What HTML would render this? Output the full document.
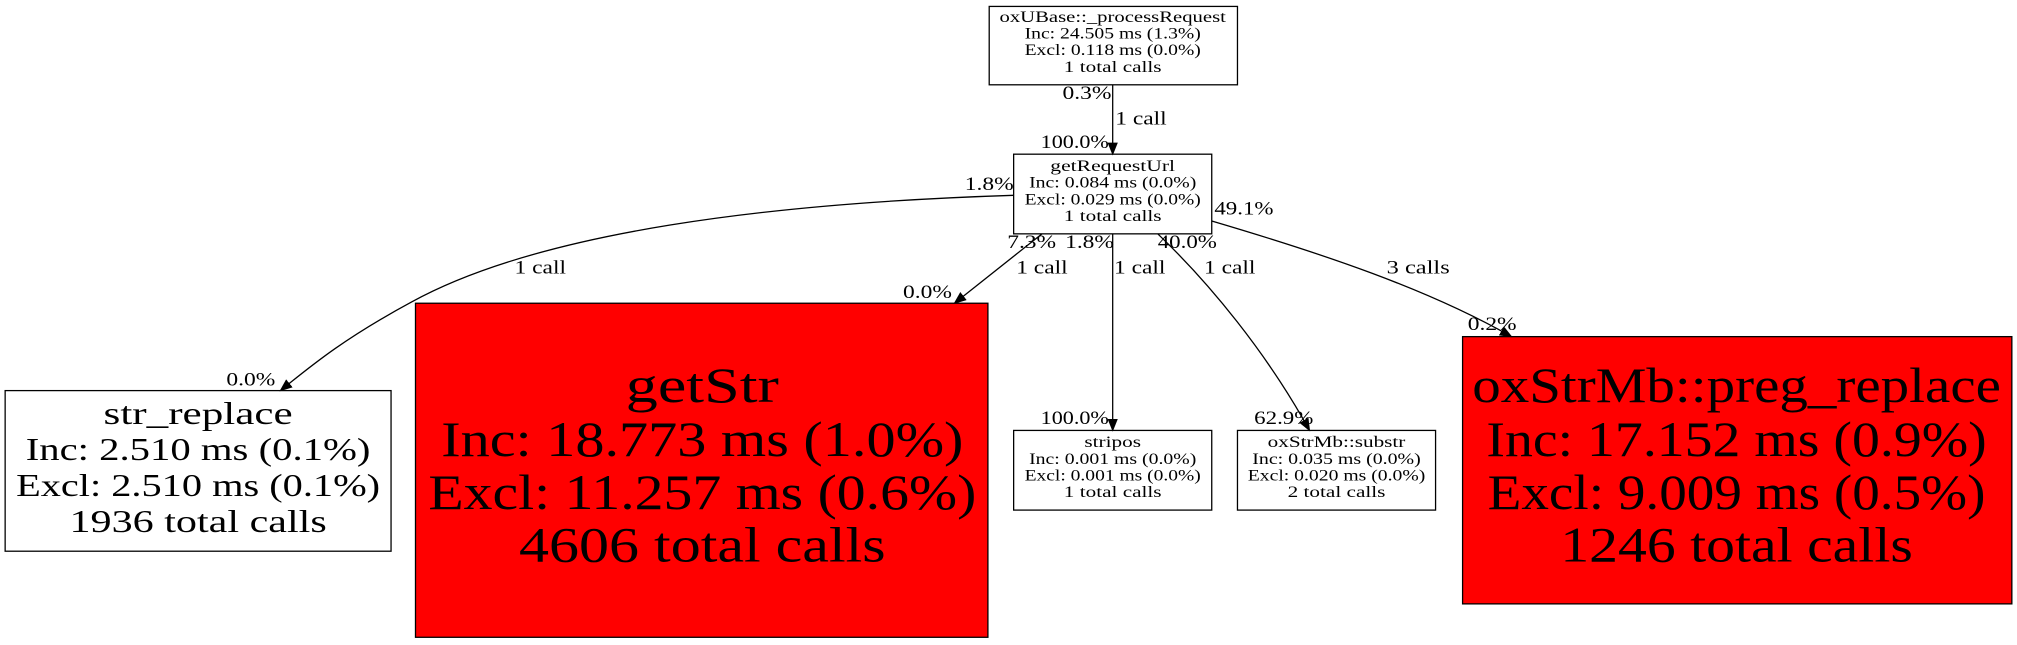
<!DOCTYPE html>
<html><head><meta charset="utf-8"><style>
html,body{margin:0;padding:0;background:#fff;}
svg{display:block}
text{font-family:"Liberation Serif",serif;}
.s{font-size:12px;}
.l{font-size:15px;}
</style></head><body>
<svg width="2017" height="645" viewBox="0 0 1568 502" preserveAspectRatio="none" xmlns="http://www.w3.org/2000/svg">
<defs><marker id="a" markerWidth="10" markerHeight="8" refX="9" refY="4" orient="auto" markerUnits="userSpaceOnUse"><path d="M0,0 L10,4 L0,8 z" fill="#000"/></marker></defs>
<g fill="none" stroke="#000" stroke-width="1">
<rect x="769" y="5" width="193" height="61" fill="#fff"/>
<rect x="788" y="120" width="154" height="62" fill="#fff"/>
<rect x="4" y="304" width="300" height="125" fill="#fff"/>
<rect x="323" y="236" width="445" height="260" fill="#f00"/>
<rect x="788" y="335" width="154" height="62" fill="#fff"/>
<rect x="962" y="335" width="154" height="62" fill="#fff"/>
<rect x="1137" y="262" width="427" height="208" fill="#f00"/>
<path d="M865,66 L865,120" marker-end="url(#a)"/>
<path d="M788,152 C600,158 420,180 320,235 C270,262 245,282 218,304" marker-end="url(#a)"/>
<path d="M810,182 L742,236" marker-end="url(#a)"/>
<path d="M865,182 L865,335" marker-end="url(#a)"/>
<path d="M900,182 C940,220 985,275 1018,335" marker-end="url(#a)"/>
<path d="M942,172 C1030,198 1110,225 1175,262" marker-end="url(#a)"/>
</g>
<g text-anchor="middle">
<text class="s" x="865" y="17" textLength="176" lengthAdjust="spacingAndGlyphs">oxUBase::_processRequest</text>
<text class="s" x="865" y="30" textLength="137" lengthAdjust="spacingAndGlyphs">Inc: 24.505 ms (1.3%)</text>
<text class="s" x="865" y="43" textLength="137" lengthAdjust="spacingAndGlyphs">Excl: 0.118 ms (0.0%)</text>
<text class="s" x="865" y="56" textLength="76" lengthAdjust="spacingAndGlyphs">1 total calls</text>
<text class="s" x="865" y="133" textLength="97" lengthAdjust="spacingAndGlyphs">getRequestUrl</text>
<text class="s" x="865" y="146" textLength="130" lengthAdjust="spacingAndGlyphs">Inc: 0.084 ms (0.0%)</text>
<text class="s" x="865" y="159" textLength="137" lengthAdjust="spacingAndGlyphs">Excl: 0.029 ms (0.0%)</text>
<text class="s" x="865" y="172" textLength="76" lengthAdjust="spacingAndGlyphs">1 total calls</text>
<text class="s" x="865" y="348" textLength="44" lengthAdjust="spacingAndGlyphs">stripos</text>
<text class="s" x="865" y="361" textLength="130" lengthAdjust="spacingAndGlyphs">Inc: 0.001 ms (0.0%)</text>
<text class="s" x="865" y="374" textLength="137" lengthAdjust="spacingAndGlyphs">Excl: 0.001 ms (0.0%)</text>
<text class="s" x="865" y="387" textLength="76" lengthAdjust="spacingAndGlyphs">1 total calls</text>
<text class="s" x="1039" y="348" textLength="107" lengthAdjust="spacingAndGlyphs">oxStrMb::substr</text>
<text class="s" x="1039" y="361" textLength="131" lengthAdjust="spacingAndGlyphs">Inc: 0.035 ms (0.0%)</text>
<text class="s" x="1039" y="374" textLength="138" lengthAdjust="spacingAndGlyphs">Excl: 0.020 ms (0.0%)</text>
<text class="s" x="1039" y="387" textLength="76" lengthAdjust="spacingAndGlyphs">2 total calls</text>
<g font-size="25">
<text x="154" y="330" textLength="147" lengthAdjust="spacingAndGlyphs">str_replace</text>
<text x="154" y="358" textLength="268" lengthAdjust="spacingAndGlyphs">Inc: 2.510 ms (0.1%)</text>
<text x="154" y="386" textLength="283" lengthAdjust="spacingAndGlyphs">Excl: 2.510 ms (0.1%)</text>
<text x="154" y="414" textLength="200" lengthAdjust="spacingAndGlyphs">1936 total calls</text></g>
<g font-size="39">
<text x="546" y="313" textLength="119" lengthAdjust="spacingAndGlyphs">getStr</text>
<text x="546" y="355" textLength="406" lengthAdjust="spacingAndGlyphs">Inc: 18.773 ms (1.0%)</text>
<text x="546" y="396" textLength="426" lengthAdjust="spacingAndGlyphs">Excl: 11.257 ms (0.6%)</text>
<text x="546" y="437" textLength="285" lengthAdjust="spacingAndGlyphs">4606 total calls</text></g>
<g font-size="39">
<text x="1350" y="313" textLength="411" lengthAdjust="spacingAndGlyphs">oxStrMb::preg_replace</text>
<text x="1350" y="355" textLength="389" lengthAdjust="spacingAndGlyphs">Inc: 17.152 ms (0.9%)</text>
<text x="1350" y="396" textLength="387" lengthAdjust="spacingAndGlyphs">Excl: 9.009 ms (0.5%)</text>
<text x="1350" y="437" textLength="274" lengthAdjust="spacingAndGlyphs">1246 total calls</text></g>
</g>
<g class="l">
<text x="826" y="77" textLength="38" lengthAdjust="spacingAndGlyphs">0.3%</text>
<text x="867" y="97" textLength="40" lengthAdjust="spacingAndGlyphs">1 call</text>
<text x="809" y="115" textLength="53" lengthAdjust="spacingAndGlyphs">100.0%</text>
<text x="750" y="148" textLength="38" lengthAdjust="spacingAndGlyphs">1.8%</text>
<text x="400" y="213" textLength="40" lengthAdjust="spacingAndGlyphs">1 call</text>
<text x="176" y="300" textLength="38" lengthAdjust="spacingAndGlyphs">0.0%</text>
<text x="783" y="193" textLength="38" lengthAdjust="spacingAndGlyphs">7.3%</text>
<text x="790" y="213" textLength="40" lengthAdjust="spacingAndGlyphs">1 call</text>
<text x="702" y="232" textLength="38" lengthAdjust="spacingAndGlyphs">0.0%</text>
<text x="828" y="193" textLength="38" lengthAdjust="spacingAndGlyphs">1.8%</text>
<text x="866" y="213" textLength="40" lengthAdjust="spacingAndGlyphs">1 call</text>
<text x="809" y="330" textLength="53" lengthAdjust="spacingAndGlyphs">100.0%</text>
<text x="900" y="193" textLength="46" lengthAdjust="spacingAndGlyphs">40.0%</text>
<text x="936" y="213" textLength="40" lengthAdjust="spacingAndGlyphs">1 call</text>
<text x="975" y="330" textLength="46" lengthAdjust="spacingAndGlyphs">62.9%</text>
<text x="944" y="167" textLength="46" lengthAdjust="spacingAndGlyphs">49.1%</text>
<text x="1078" y="213" textLength="49" lengthAdjust="spacingAndGlyphs">3 calls</text>
<text x="1141" y="257" textLength="38" lengthAdjust="spacingAndGlyphs">0.2%</text>
</g>
</svg>
</body></html>
